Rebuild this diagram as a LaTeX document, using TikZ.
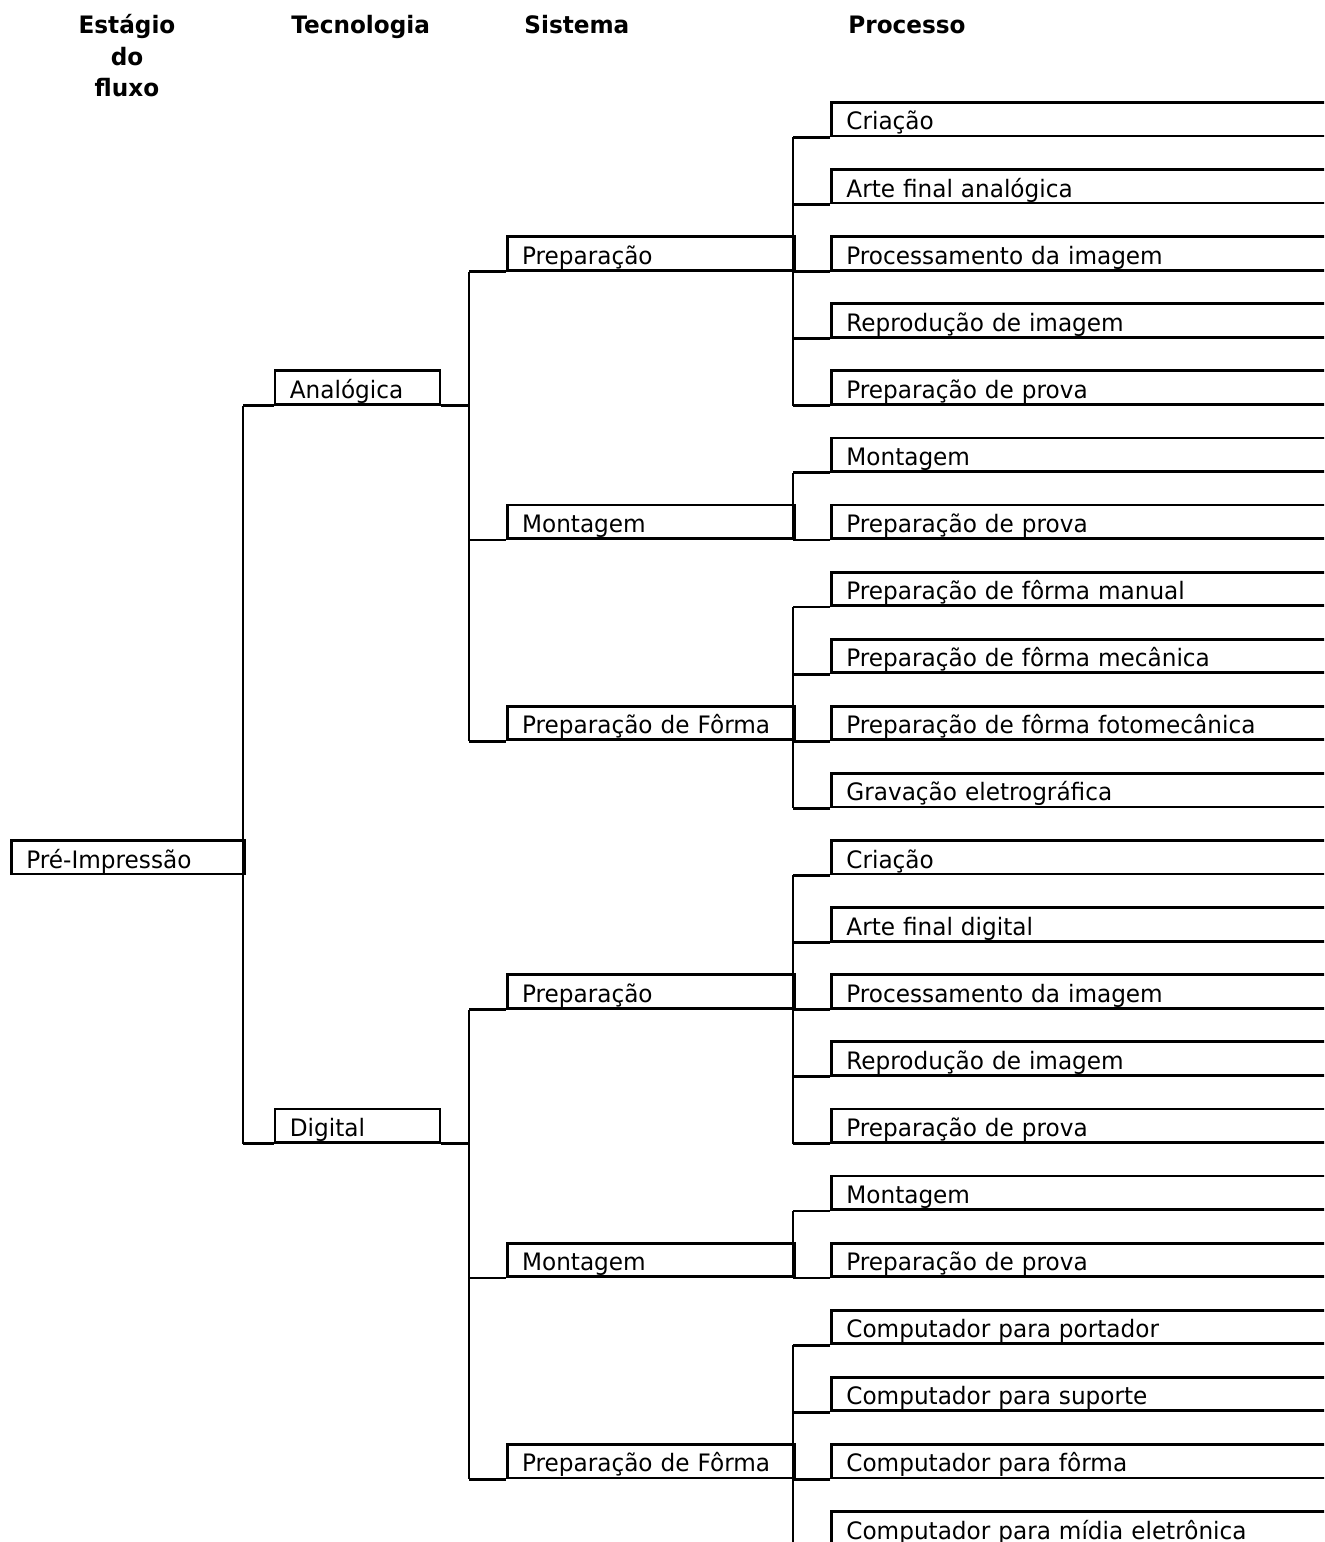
\documentclass[tikz,border=0pt]{standalone}
\usepackage{fontspec}
\setmainfont{DejaVu Sans}[FakeStretch=0.965]
\begin{document}
\begin{tikzpicture}[x=0.5pt,y=-0.5pt,line width=1.4pt,
  box/.style={draw,rectangle,inner xsep=7.5pt,inner ysep=0pt,text height=13.75pt,text depth=3pt,align=left,anchor=south west,font=\fontsize{12}{14}\selectfont},
  stagebox/.style={box,text width=101.5pt},
  techbox/.style={box,text width=67.5pt},
  sysbox/.style={box,text width=128.5pt},
  procbox/.style={box,text width=245pt},
  head/.style={font=\fontsize{12}{15.8}\selectfont\bfseries,inner sep=0pt,anchor=base west}]
\useasboundingbox (0,0) rectangle (1324,1542);
\clip (0,0) rectangle (1324,1542);
% headers
\node[head,anchor=base,align=center] (h1) at (127,96.6) {Estágio\\do\\fluxo};
\node[head] (h2) at (290,33) {Tecnologia};
\node[head] (h3) at (523,33) {Sistema};
\node[head] (h4) at (847,33) {Processo};
% vertical connector columns
\coordinate (v1) at (243,0);
\coordinate (v2) at (469,0);
\coordinate (v3) at (793,0);
% stage
\node[stagebox] (pre) at (10,875.4) {Pré-Impressão};
% technology
\node[techbox] (ana) at (273.5,405.7) {Analógica};
\node[techbox] (dig) at (273.5,1143.8) {Digital};
% systems
\node[sysbox] (sa1) at (505.7,271.5) {Preparação};
\node[sysbox] (sa2) at (505.7,539.9) {Montagem};
\node[sysbox] (sa3) at (505.7,741.2) {Preparação de Fôrma};
\node[sysbox] (sd1) at (505.7,1009.6) {Preparação};
\node[sysbox] (sd2) at (505.7,1278.0) {Montagem};
\node[sysbox] (sd3) at (505.7,1479.3) {Preparação de Fôrma};
% processes
\node[procbox] (p0) at (830,137.3) {Criação};
\node[procbox] (p1) at (830,204.4) {Arte final analógica};
\node[procbox] (p2) at (830,271.5) {Processamento da imagem};
\node[procbox] (p3) at (830,338.6) {Reprodução de imagem};
\node[procbox] (p4) at (830,405.7) {Preparação de prova};
\node[procbox] (p5) at (830,472.8) {Montagem};
\node[procbox] (p6) at (830,539.9) {Preparação de prova};
\node[procbox] (p7) at (830,607.0) {Preparação de fôrma manual};
\node[procbox] (p8) at (830,674.1) {Preparação de fôrma mecânica};
\node[procbox] (p9) at (830,741.2) {Preparação de fôrma fotomecânica};
\node[procbox] (p10) at (830,808.3) {Gravação eletrográfica};
\node[procbox] (p11) at (830,875.4) {Criação};
\node[procbox] (p12) at (830,942.5) {Arte final digital};
\node[procbox] (p13) at (830,1009.6) {Processamento da imagem};
\node[procbox] (p14) at (830,1076.7) {Reprodução de imagem};
\node[procbox] (p15) at (830,1143.8) {Preparação de prova};
\node[procbox] (p16) at (830,1210.9) {Montagem};
\node[procbox] (p17) at (830,1278.0) {Preparação de prova};
\node[procbox] (p18) at (830,1345.1) {Computador para portador};
\node[procbox] (p19) at (830,1412.2) {Computador para suporte};
\node[procbox] (p20) at (830,1479.3) {Computador para fôrma};
\node[procbox] (p21) at (830,1546.4) {Computador para mídia eletrônica};
% connectors: stage -> technology
\draw (ana.south west -| v1) -- (dig.south west -| v1);
\foreach \c in {ana,dig} \draw (\c.south west) -- (\c.south west -| v1);
% technology -> systems
\draw (ana.south east) -- (ana.south east -| v2);
\draw (dig.south east) -- (dig.south east -| v2);
\draw (sa1.south west -| v2) -- (sa3.south west -| v2);
\draw (sd1.south west -| v2) -- (sd3.south west -| v2);
\foreach \c in {sa1,sa2,sa3,sd1,sd2,sd3} \draw (\c.south west) -- (\c.south west -| v2);
% systems -> processes
\draw (p0.south west -| v3) -- (p4.south west -| v3);
\draw (p5.south west -| v3) -- (p6.south west -| v3);
\draw (p7.south west -| v3) -- (p10.south west -| v3);
\draw (p11.south west -| v3) -- (p15.south west -| v3);
\draw (p16.south west -| v3) -- (p17.south west -| v3);
\draw (p18.south west -| v3) -- (p21.south west -| v3);
\foreach \c in {p0,p1,p2,p3,p4,p5,p6,p7,p8,p9,p10,p11,p12,p13,p14,p15,p16,p17,p18,p19,p20,p21}
  \draw (\c.south west) -- (\c.south west -| v3);
\end{tikzpicture}
\end{document}
